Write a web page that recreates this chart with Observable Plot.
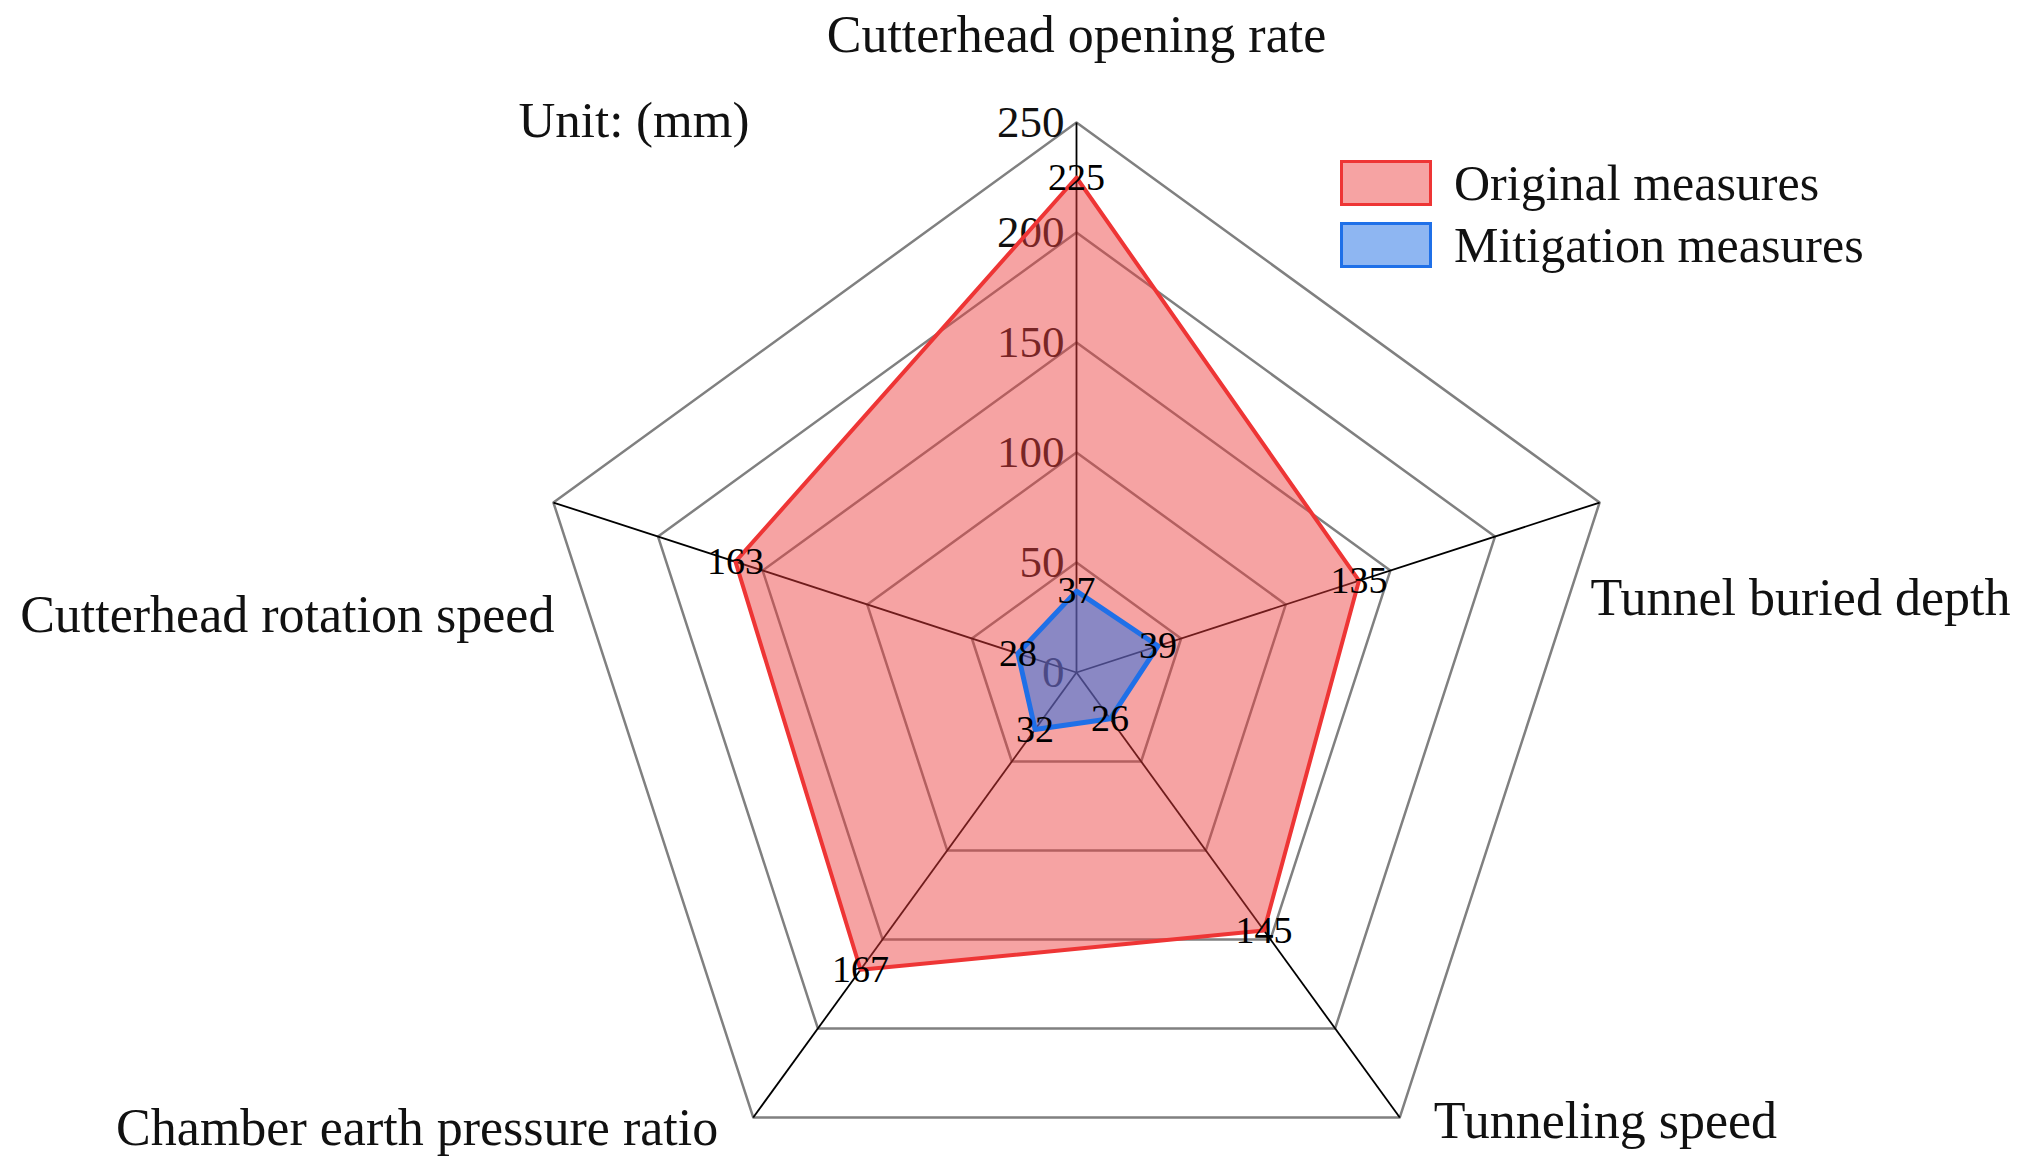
<!DOCTYPE html>
<html><head><meta charset="utf-8">
<script src="https://cdn.jsdelivr.net/npm/d3@7"></script>
<script src="https://cdn.jsdelivr.net/npm/@observablehq/plot@0.6"></script>
<style>
html,body{margin:0;padding:0;background:#fff;}
#chart{position:relative;width:2030px;height:1171px;font-family:"Liberation Serif","Times New Roman",serif;}
.legend{position:absolute;left:1340px;top:152px;}
.row{display:flex;align-items:center;height:62px;}
.sw{width:92px;height:46px;box-sizing:border-box;border:3.5px solid;margin-right:22px;}
.lab{font-size:50px;color:#111;line-height:1;white-space:nowrap;}
</style></head><body><div id="chart"></div>
<script>
const categories = ["Cutterhead opening rate","Tunnel buried depth","Tunneling speed","Chamber earth pressure ratio","Cutterhead rotation speed"];
const original = [225,135,145,167,163];
const mitigation = [37,39,26,32,28];
const ticks = [0,50,100,150,200,250];
const seriesNames = ["Original measures","Mitigation measures"];
const unitLabel = "Unit: (mm)";

// layout (pixels)
const W = 2030, H = 1171, cx = 1076, cy = 672, R = 550;
const rMax = d3.max(ticks);
const k = R / rMax;
const n = categories.length;
const ang = i => i * 2 * Math.PI / n;
const pt = (i, r) => ({x: r * Math.sin(ang(i)), y: r * Math.cos(ang(i))});
const labelLayout = [
  {dx: 0, dy: -87, anchor: "middle"},
  {dx: -9, dy: 96, anchor: "start"},
  {dx: 34, dy: 4, anchor: "start"},
  {dx: -35, dy: 11, anchor: "end"},
  {dx: 1, dy: 113, anchor: "end"}
];
const font = "Liberation Serif, Times New Roman, serif";

const gridData = ticks.filter(t => t > 0).flatMap(t => categories.map((c, i) => ({level: t, ...pt(i, t)})));
const spokeData = categories.map((c, i) => ({c, ...pt(i, rMax)}));
const polyO = original.map((v, i) => ({v, ...pt(i, v)}));
const polyM = mitigation.map((v, i) => ({v, ...pt(i, v)}));
const tickData = ticks.map(t => ({t, x: 0, y: t}));

const red = "rgb(235,60,60)", redStroke = "#ee3535";
const blue = "rgb(30,110,230)", blueStroke = "#1f70e8";

const marks = [
  Plot.line(gridData, {x: "x", y: "y", z: "level", curve: "linear-closed", stroke: "#808080", strokeWidth: 2.5}),
  Plot.link(spokeData, {x1: () => 0, y1: () => 0, x2: "x", y2: "y", stroke: "#000", strokeWidth: 1.8}),
  Plot.text(tickData, {x: "x", y: "y", text: d => String(d.t), textAnchor: "end", dx: -12, fontSize: 45, fill: "#111", fontFamily: font}),
  Plot.line(polyO, {x: "x", y: "y", curve: "linear-closed", fill: red, fillOpacity: 0.47, stroke: redStroke, strokeWidth: 4}),
  Plot.line(polyM, {x: "x", y: "y", curve: "linear-closed", fill: blue, fillOpacity: 0.5, stroke: blueStroke, strokeWidth: 5}),
  Plot.text(polyO, {x: "x", y: "y", text: d => String(d.v), fontSize: 38, fill: "#000", fontFamily: font}),
  Plot.text(polyM, {x: "x", y: "y", text: d => String(d.v), fontSize: 38, fill: "#000", fontFamily: font}),
  ...spokeData.map((d, i) => Plot.text([d], {x: "x", y: "y", text: () => categories[i], textAnchor: labelLayout[i].anchor, dx: labelLayout[i].dx, dy: labelLayout[i].dy, fontSize: 52, fill: "#111", fontFamily: font})),
  Plot.text([unitLabel], {frameAnchor: "top-left", dx: 518, dy: 120, text: d => d, textAnchor: "start", lineAnchor: "middle", fontSize: 51, fill: "#111", fontFamily: font})
];

const chart = Plot.plot({
  width: W, height: H, margin: 0,
  x: {domain: [-cx / k, (W - cx) / k], axis: null},
  y: {domain: [-(H - cy) / k, cy / k], axis: null},
  style: {background: "#fff", fontFamily: font},
  marks
});
const root = document.getElementById("chart");
root.appendChild(chart);

const legend = document.createElement("div");
legend.className = "legend";
const swatches = [{fill: "rgba(235,60,60,0.47)", stroke: redStroke}, {fill: "rgba(30,110,230,0.5)", stroke: blueStroke}];
seriesNames.forEach((s, i) => {
  const row = document.createElement("div"); row.className = "row";
  const sw = document.createElement("div"); sw.className = "sw";
  sw.style.background = swatches[i].fill; sw.style.borderColor = swatches[i].stroke;
  const lab = document.createElement("div"); lab.className = "lab"; lab.textContent = s;
  row.appendChild(sw); row.appendChild(lab); legend.appendChild(row);
});
root.appendChild(legend);
</script></body></html>
